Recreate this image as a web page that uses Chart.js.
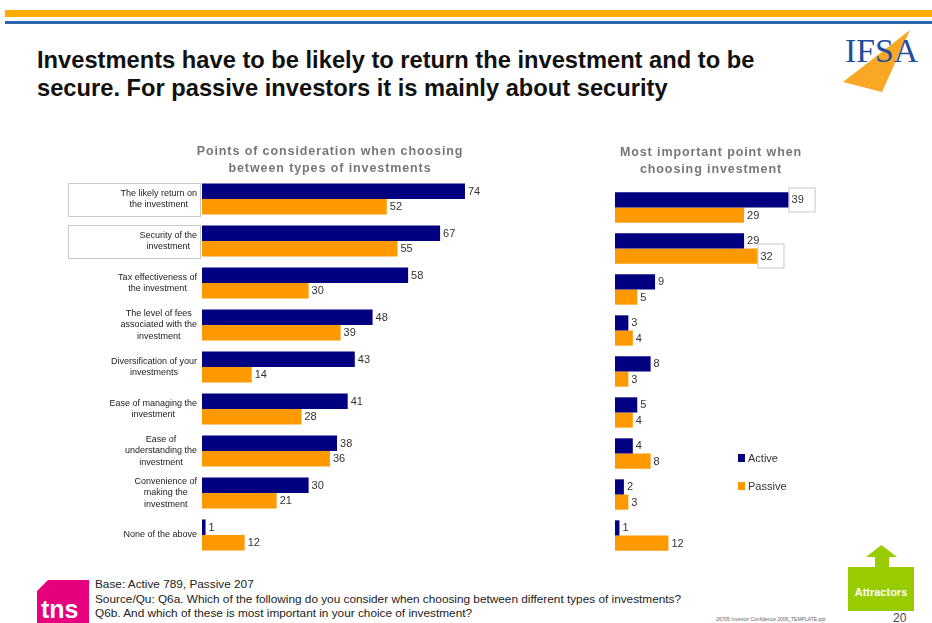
<!DOCTYPE html>
<html>
<head>
<meta charset="utf-8">
<script src="https://cdn.jsdelivr.net/npm/chart.js@4.4.1/dist/chart.umd.min.js"></script>
<style>
  body { margin: 0; width: 932px; height: 623px; position: relative; overflow: hidden; background: #fff;
         font-family: 'Liberation Sans', Arial, sans-serif; }
  .abs { position: absolute; }
  #band { left: 5px; top: 10px; width: 927px; height: 7px; background: #FFAA00; }
  #rule { left: 5px; top: 21px; width: 927px; height: 3px; background: #2B64A8; }
  #headline { left: 37px; top: 46px; font-weight: bold; font-size: 23.7px; line-height: 28px; color: #111; white-space: nowrap; }
  #leftChart { left: 60px; top: 140px; }
  #rightChart { left: 600px; top: 140px; }
  #notes { left: 95px; top: 577px; font-size: 11.8px; line-height: 14.5px; color: #222; white-space: nowrap; }
  #stamp { left: 716px; top: 616px; font-size: 5px; color: #666; white-space: nowrap; }
  #page { left: 893px; top: 611px; font-size: 12px; color: #444; }
  #attract { left: 848px; top: 567px; width: 66px; height: 44px; background: #99CC00; color: #fff;
             font-weight: bold; font-size: 11px; line-height: 50px; text-align: center; }
</style>
</head>
<body>
<div id="band" class="abs"></div>
<div id="rule" class="abs"></div>
<div id="headline" class="abs">Investments have to be likely to return the investment and to be<br>secure. For passive investors it is mainly about security</div>

<svg class="abs" style="left:836px;top:24px" width="90" height="75">
  <polygon points="74,6 7,58 46,68" fill="#F9A825"/>
  <text x="9" y="38" font-family="'Liberation Serif', serif" font-size="33" fill="#1F4E9A" textLength="73" lengthAdjust="spacingAndGlyphs">IFSA</text>
</svg>

<canvas id="leftChart" class="abs" width="540" height="420"></canvas>
<canvas id="rightChart" class="abs" width="222" height="420"></canvas>

<svg class="abs" style="left:36px;top:578px" width="58" height="45">
  <polygon points="12,2 53,2 53,45 1,45 1,13" fill="#E6007E"/>
  <text x="5" y="40" font-family="'Liberation Sans', Arial, sans-serif" font-weight="bold" font-size="25" fill="#fff">tns</text>
  <text x="53" y="9" font-family="Arial" font-size="8" fill="#E6007E">'</text>
</svg>
<div id="notes" class="abs">Base: Active 789, Passive 207<br>Source/Qu: Q6a. Which of the following do you consider when choosing between different types of investments?<br>Q6b. And which of these is most important in your choice of investment?</div>

<svg class="abs" style="left:864px;top:544px" width="36" height="24">
  <polygon points="2,13 17.5,1 33,13 25,13 25,24 11,24 11,13" fill="#99CC00"/>
</svg>
<div id="attract" class="abs">Attractors</div>
<div id="stamp" class="abs">26705 Investor Confidence 2006_TEMPLATE.ppt</div>
<div id="page" class="abs">20</div>

<script>
const considerLabels = [
  ['The likely return on', 'the investment'],
  ['Security of the', 'investment'],
  ['Tax effectiveness of', 'the investment'],
  ['The level of fees', 'associated with the', 'investment'],
  ['Diversification of your', 'investments'],
  ['Ease of managing the', 'investment'],
  ['Ease of', 'understanding the', 'investment'],
  ['Convenience of', 'making the', 'investment'],
  ['None of the above']
];
const considerActive = [74, 67, 58, 48, 43, 41, 38, 30, 1];
const considerPassive = [52, 55, 30, 39, 14, 28, 36, 21, 12];
const mostActive = [39, 29, 9, 3, 8, 5, 4, 2, 1];
const mostPassive = [29, 32, 5, 4, 3, 4, 8, 3, 12];

// categories with a frame around their label (left) / value (right)
const framedLabels = [0, 1];
const framedValues = [[0, 0], [1, 1]]; // [datasetIndex, index]

const NAVY = '#000080';
const ORANGE = '#FF9900';
const TEXT = "'Liberation Sans', Arial, sans-serif";

function makeDatasets(active, passive) {
  return [
    { label: 'Active', data: active, backgroundColor: NAVY, barPercentage: 1, categoryPercentage: 0.74 },
    { label: 'Passive', data: passive, backgroundColor: ORANGE, barPercentage: 1, categoryPercentage: 0.74 }
  ];
}

// spaced-out lettering for the chart titles, switched off again before the bars
const titleSpacing = {
  id: 'titleSpacing',
  beforeDraw(chart) { chart.ctx.letterSpacing = '0.9px'; },
  beforeDatasetsDraw(chart) { chart.ctx.letterSpacing = '0px'; }
};

const valueLabels = {
  id: 'valueLabels',
  afterDatasetsDraw(chart, args, opts) {
    const ctx = chart.ctx;
    ctx.save();
    ctx.font = '11px ' + TEXT;
    ctx.textBaseline = 'middle';
    chart.data.datasets.forEach((ds, di) => {
      chart.getDatasetMeta(di).data.forEach((bar, i) => {
        const framed = (opts.framed || []).some(f => f[0] === di && f[1] === i);
        if (framed) {
          ctx.fillStyle = '#fff';
          ctx.strokeStyle = '#c8c8c8';
          ctx.lineWidth = 1;
          ctx.fillRect(bar.x + 0.5, bar.y - 12, 26, 24);
          ctx.strokeRect(bar.x + 0.5, bar.y - 12, 26, 24);
        }
        ctx.fillStyle = '#333';
        ctx.fillText(String(ds.data[i]), bar.x + 3, bar.y + 0.5);
      });
    });
    ctx.restore();
  }
};

// multi-line category labels: block right-aligned against the bars, lines centred in the block
const categoryLabels = {
  id: 'categoryLabels',
  beforeDatasetsDraw(chart) {
    const y = chart.scales.y;
    const ctx = chart.ctx;
    const right = chart.chartArea.left - 5;
    const lineH = 11.5;
    ctx.save();
    ctx.font = '9px ' + TEXT;
    ctx.textBaseline = 'middle';
    chart.data.labels.forEach((lab, i) => {
      const lines = Array.isArray(lab) ? lab : [lab];
      const cy = y.getPixelForTick(i);
      if (framedLabels.includes(i)) {
        ctx.strokeStyle = '#c8c8c8';
        ctx.lineWidth = 1;
        ctx.strokeRect(8.5, cy - 15.5, chart.chartArea.left - 10, 33);
      }
      const w = Math.max(...lines.map(l => ctx.measureText(l).width));
      const cx = right - w / 2;
      ctx.fillStyle = '#222';
      ctx.textAlign = 'center';
      lines.forEach((l, k) => {
        ctx.fillText(l, cx, cy + (k - (lines.length - 1) / 2) * lineH);
      });
    });
    ctx.restore();
  }
};

const sideLegend = {
  id: 'sideLegend',
  afterDraw(chart, args, opts) {
    const ctx = chart.ctx;
    ctx.save();
    ctx.font = '11px ' + TEXT;
    ctx.textBaseline = 'middle';
    chart.data.datasets.forEach((ds, i) => {
      const y = opts.y + i * opts.gap;
      ctx.fillStyle = ds.backgroundColor;
      ctx.fillRect(opts.x, y - 4, 7, 8);
      ctx.fillStyle = '#333';
      ctx.fillText(ds.label, opts.x + 10, y + 0.5);
    });
    ctx.restore();
  }
};

function baseOptions(titleLines, max, yWidth, titlePad) {
  return {
    responsive: false,
    animation: false,
    indexAxis: 'y',
    layout: { padding: { bottom: 4 } },
    scales: {
      x: { display: false, min: 0, max: max },
      y: {
        grid: { display: false },
        border: { display: false },
        ticks: { display: false },
        afterFit(scale) { scale.width = yWidth; }
      }
    },
    plugins: {
      legend: { display: false },
      tooltip: { enabled: false },
      title: {
        display: true,
        text: titleLines,
        color: '#777',
        font: { family: TEXT, size: 12.5, weight: 'bold', lineHeight: 1.36 },
        padding: titlePad
      }
    }
  };
}

const leftOpts = baseOptions(['Points of consideration when choosing', 'between types of investments'],
  112, 142, { top: 3, bottom: 1 });
leftOpts.plugins.valueLabels = { framed: [] };

new Chart(document.getElementById('leftChart'), {
  type: 'bar',
  data: { labels: considerLabels, datasets: makeDatasets(considerActive, considerPassive) },
  options: leftOpts,
  plugins: [titleSpacing, categoryLabels, valueLabels]
});

const rightOpts = baseOptions(['Most important point when', 'choosing investment'],
  46.5, 15, { top: 4, bottom: 9 });
rightOpts.plugins.valueLabels = { framed: framedValues };
rightOpts.plugins.sideLegend = { x: 138, y: 318, gap: 28 };

new Chart(document.getElementById('rightChart'), {
  type: 'bar',
  data: { labels: considerLabels, datasets: makeDatasets(mostActive, mostPassive) },
  options: rightOpts,
  plugins: [titleSpacing, valueLabels, sideLegend]
});
</script>
</body>
</html>
